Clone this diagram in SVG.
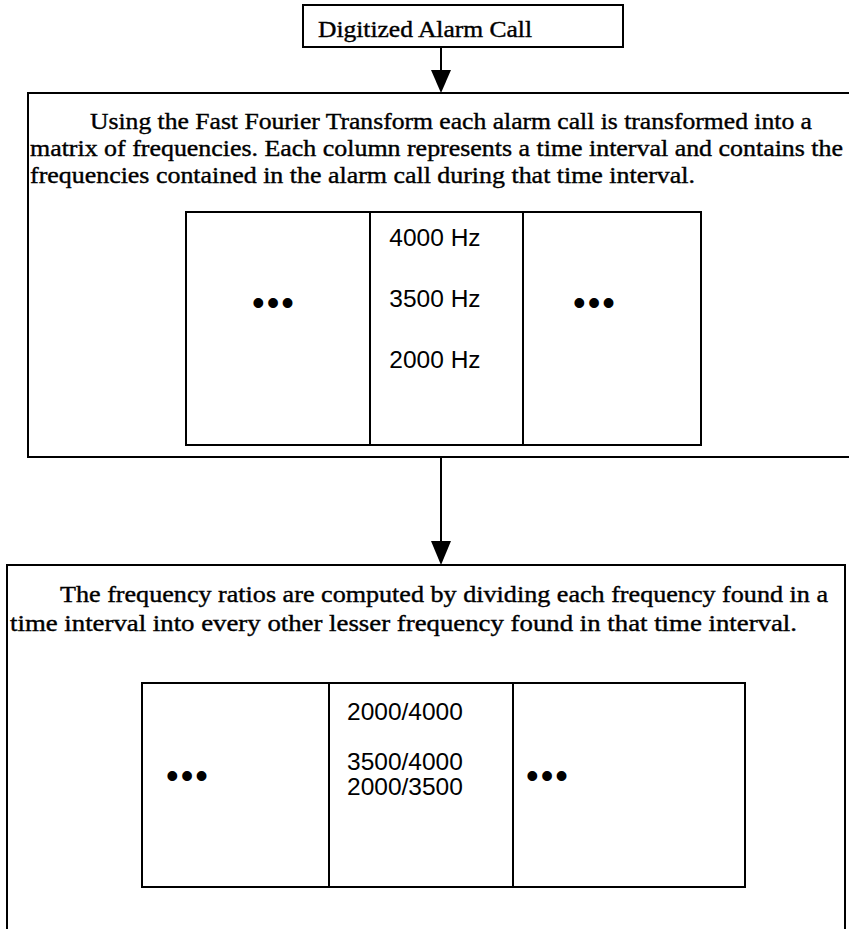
<svg xmlns="http://www.w3.org/2000/svg" width="849" height="929" viewBox="0 0 849 929">
<style>
.box{fill:none;stroke:#000;stroke-width:2}
.ln{stroke:#000;stroke-width:2;fill:none}
.serif{font-family:'Liberation Serif',serif;font-size:24px;fill:#000;stroke:#000;stroke-width:0.4}
.sans{font-family:'Liberation Sans',sans-serif;font-size:24.5px;fill:#000}
.dots{font-family:'Liberation Sans',sans-serif;font-size:36px;fill:#000;letter-spacing:2px}
</style>
<rect width="849" height="929" fill="#fff"/>
<g id="connectors">
<line class="ln" x1="441" y1="47" x2="441" y2="71"/>
<path d="M431,70 L451,70 L441,93 Z" fill="#000"/>
<line class="ln" x1="441" y1="457" x2="441" y2="542"/>
<path d="M431,541 L451,541 L441,565 Z" fill="#000"/>
</g>
<g id="node-digitized">
<rect class="box" x="303" y="5" width="320" height="42"/>
<text class="serif" x="318" y="37" textLength="214" lengthAdjust="spacingAndGlyphs">Digitized Alarm Call</text>
</g>
<g id="node-fft">
<rect class="box" x="28" y="93" width="830" height="364"/>
<text class="serif" x="90" y="129" textLength="722" lengthAdjust="spacingAndGlyphs">Using the Fast Fourier Transform each alarm call is transformed into a</text>
<text class="serif" x="30" y="156" textLength="813" lengthAdjust="spacingAndGlyphs">matrix of frequencies. Each column represents a time interval and contains the</text>
<text class="serif" x="30" y="183" textLength="665" lengthAdjust="spacingAndGlyphs">frequencies contained in the alarm call during that time interval.</text>
<g id="table-freq">
<rect class="box" x="186" y="212" width="515" height="233"/>
<line class="ln" x1="370" y1="212" x2="370" y2="445"/>
<line class="ln" x1="523" y1="212" x2="523" y2="445"/>
<text class="dots" x="274" y="315" text-anchor="middle">•••</text>
<text class="dots" x="595" y="315" text-anchor="middle">•••</text>
<text class="sans" x="435" y="246" text-anchor="middle">4000 Hz</text>
<text class="sans" x="435" y="307" text-anchor="middle">3500 Hz</text>
<text class="sans" x="435" y="368" text-anchor="middle">2000 Hz</text>
</g>
</g>
<g id="node-ratios">
<rect class="box" x="7" y="565" width="838" height="380"/>
<text class="serif" x="60" y="602" textLength="768" lengthAdjust="spacingAndGlyphs">The frequency ratios are computed by dividing each frequency found in a</text>
<text class="serif" x="10" y="631" textLength="787" lengthAdjust="spacingAndGlyphs">time interval into every other lesser frequency found in that time interval.</text>
<g id="table-ratios">
<rect class="box" x="142" y="683" width="603" height="204"/>
<line class="ln" x1="329" y1="683" x2="329" y2="887"/>
<line class="ln" x1="513" y1="683" x2="513" y2="887"/>
<text class="dots" x="188" y="788" text-anchor="middle">•••</text>
<text class="dots" x="548" y="788" text-anchor="middle">•••</text>
<text class="sans" x="347" y="720">2000/4000</text>
<text class="sans" x="347" y="770">3500/4000</text>
<text class="sans" x="347" y="795">2000/3500</text>
</g>
</g>
</svg>
